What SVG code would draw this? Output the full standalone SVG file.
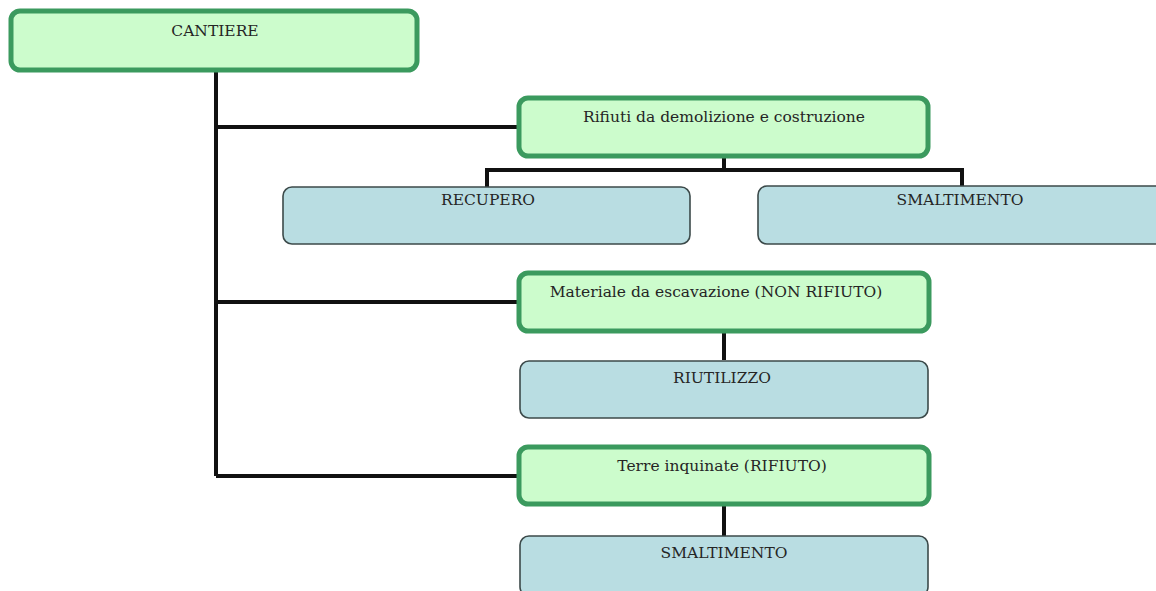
<svg xmlns="http://www.w3.org/2000/svg" width="1156" height="591" viewBox="0 0 1156 591">
<style>
.g{fill:#ccfccc;stroke:#3b9a5e;stroke-width:5}
.b{fill:#b9dde2;stroke:#3c4a4a;stroke-width:1.6}
.t{font-family:"DejaVu Serif","Liberation Serif",serif;font-size:15.5px;fill:#252525;text-anchor:middle}
.c{fill:none;stroke:#111;stroke-width:4}
</style>
<rect width="1156" height="591" fill="#fff"/>
<g id="connectors">
<path class="c" d="M216 72V476"/>
<path class="c" d="M216 127H519"/>
<path class="c" d="M216 302H519"/>
<path class="c" d="M216 476H519"/>
<path class="c" d="M724 157V170M487 187V170H962V187"/>
<path class="c" d="M724 332V360"/>
<path class="c" d="M724 505V536"/>
</g>
<g id="cantiere"><rect class="g" x="11" y="11" width="406" height="59" rx="9"/><text class="t" x="215" y="36">CANTIERE</text></g>
<g id="rifiuti"><rect class="g" x="519" y="98" width="409" height="58" rx="9"/><text class="t" x="724" y="122">Rifiuti da demolizione e costruzione</text></g>
<g id="recupero"><rect class="b" x="283" y="187" width="407" height="57" rx="9"/><text class="t" x="488" y="205">RECUPERO</text></g>
<g id="smaltimento1"><rect class="b" x="758" y="186" width="410" height="58" rx="9"/><text class="t" x="960" y="205">SMALTIMENTO</text></g>
<g id="materiale"><rect class="g" x="519" y="273" width="410" height="58" rx="9"/><text class="t" x="716" y="297">Materiale da escavazione (NON RIFIUTO)</text></g>
<g id="riutilizzo"><rect class="b" x="520" y="361" width="408" height="57" rx="9"/><text class="t" x="722" y="383">RIUTILIZZO</text></g>
<g id="terre"><rect class="g" x="519" y="447" width="410" height="57" rx="9"/><text class="t" x="722" y="471">Terre inquinate (RIFIUTO)</text></g>
<g id="smaltimento2"><rect class="b" x="520" y="536" width="408" height="60" rx="9"/><text class="t" x="724" y="558">SMALTIMENTO</text></g>
</svg>
